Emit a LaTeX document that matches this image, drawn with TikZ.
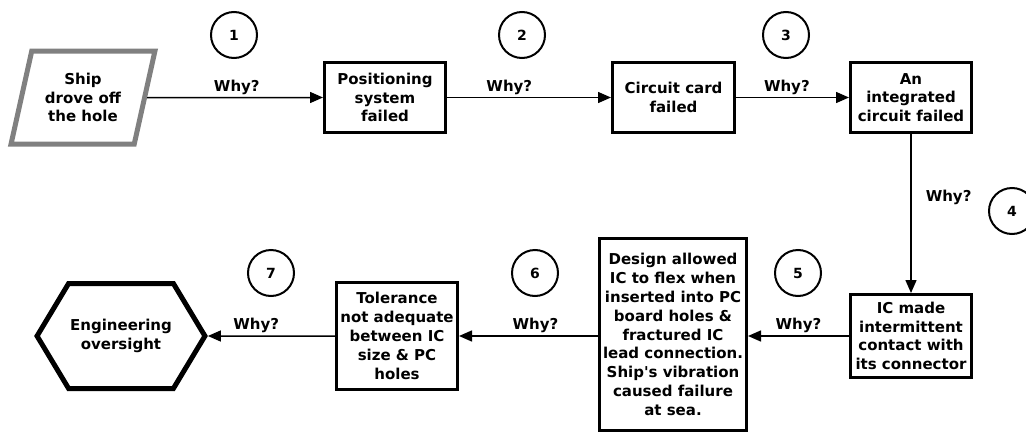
\documentclass[tikz,border=0pt]{standalone}
\usepackage{fontspec}
\setmainfont{DejaVu Sans}
\usetikzlibrary{arrows.meta,shapes.geometric,shapes.symbols}
\begin{document}
\begin{tikzpicture}[x=1pt,y=-1pt,
  txt/.style={align=center,font=\fontsize{15}{18.8}\selectfont\bfseries,inner sep=1.5pt},
  stepbox/.style={txt,draw,line width=3pt,minimum width=121pt,minimum height=70pt},
  numc/.style={circle,draw,line width=2pt,minimum size=46pt,inner sep=0pt,font=\fontsize{14}{16}\selectfont\bfseries},
  arr/.style={line width=1.5pt,-{Triangle[length=13pt,width=11pt]}},
  whyfont/.style={inner sep=0pt,font=\fontsize{15}{16}\selectfont\bfseries},
  why/.style={whyfont,above=2.5pt}]
\useasboundingbox (0,0) rectangle (1026,434);
% top row
\node[txt,trapezium,trapezium stretches=true,trapezium left angle=73,trapezium right angle=107,
      draw=gray,line width=5pt,minimum width=144pt,minimum height=93pt] (ship) at (83,97.5)
      {Ship\\drove off\\the hole};
\node[stepbox] (b2) at (385,97.5) {Positioning\\system\\failed};
\node[stepbox,minimum width=122pt] (b3) at (673.5,97.5) {Circuit card\\failed};
\node[stepbox] (b4) at (911,97.5) {An\\integrated\\circuit failed};
% bottom row
\node[stepbox,minimum height=83pt] (b5) at (911,336) {IC made\\intermittent\\contact with\\its connector};
\node[stepbox,minimum width=147pt,minimum height=192pt] (b6) at (673,334.5)
  {Design allowed\\IC to flex when\\inserted into PC\\board holes \&\\fractured IC\\lead connection.\\Ship\textquotesingle s vibration\\caused failure\\at sea.};
\node[stepbox,minimum height=107pt] (b7) at (397,336) {Tolerance\\not adequate\\between IC\\size \& PC\\holes};
\node[txt,signal,signal to=west and east,signal pointer angle=118,draw,line width=5pt,
      minimum width=165pt,minimum height=105pt] (eng) at (121,336) {Engineering\\oversight};
% numbered circles
\node[numc] (c1) at (234,35) {1};
\node[numc] (c2) at (522,35) {2};
\node[numc] (c3) at (786,35) {3};
\node[numc] (c4) at (1012,211) {4};
\node[numc] (c5) at (798,273) {5};
\node[numc] (c6) at (535,273) {6};
\node[numc] (c7) at (271,273) {7};
% connectors
\draw[arr] (ship) -- node[why,pos=.51] {Why?} (b2);
\draw[arr] (b2) -- node[why,pos=.38] {Why?} (b3);
\draw[arr] (b3) -- node[why,pos=.45] {Why?} (b4);
\draw[arr] (b4) -- node[whyfont,pos=.4,anchor=west,xshift=14pt] {Why?} (b5);
\draw[arr] (b5.west) -- node[why,pos=.5] {Why?} (b5.west -| b6.east);
\draw[arr] (b6.west |- b7) -- node[why,pos=.45] {Why?} (b7.east);
\draw[arr] (b7) -- node[why,pos=.62] {Why?} (eng);
\end{tikzpicture}
\end{document}
